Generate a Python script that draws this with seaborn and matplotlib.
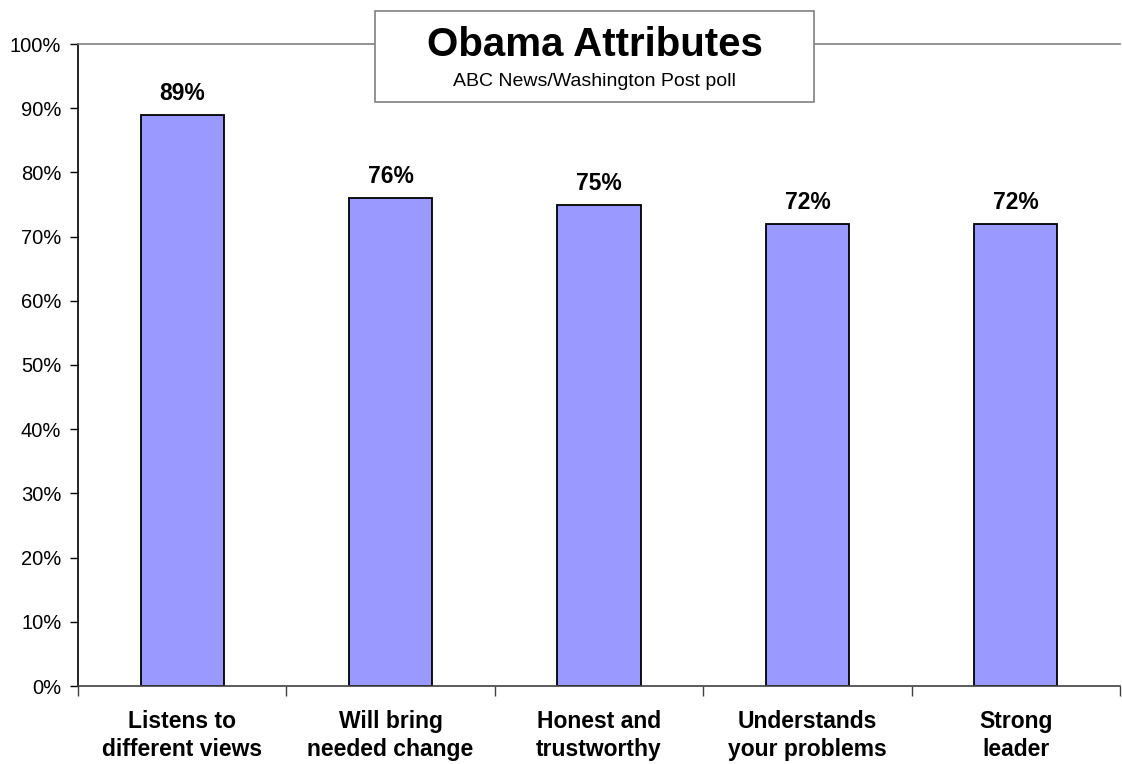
import matplotlib
matplotlib.use("Agg")
import matplotlib.pyplot as plt
import seaborn as sns
import pandas as pd
from matplotlib.patches import Rectangle
from matplotlib.ticker import FixedLocator, FuncFormatter

# dados
atributos = [
    "Listens to\ndifferent views",
    "Will bring\nneeded change",
    "Honest and\ntrustworthy",
    "Understands\nyour problems",
    "Strong\nleader",
]
percentuais = [89, 76, 75, 72, 72]
titulo = "Obama Attributes"
subtitulo = "ABC News/Washington Post poll"

df = pd.DataFrame({"atributo": atributos, "pct": percentuais})

sns.set_style("white")
plt.rcParams["font.family"] = ["Liberation Sans", "DejaVu Sans"]
plt.rcParams["text.color"] = "black"
plt.rcParams["xtick.color"] = "black"
plt.rcParams["ytick.color"] = "black"

fig = plt.figure(figsize=(11.22, 7.64), dpi=100)
ax = fig.add_axes([78 / 1122, 1 - 686 / 764, 1042 / 1122, 642 / 764])

sns.barplot(
    data=df,
    x="atributo",
    y="pct",
    color="#9999FF",
    saturation=1,
    width=0.4,
    edgecolor="black",
    linewidth=1.3,
    ax=ax,
)

ax.set_xlim(-0.5, len(atributos) - 0.5)
ax.set_ylim(0, 100)
ax.set_xlabel("")
ax.set_ylabel("")

# eixo y
ax.set_yticks(range(0, 101, 10))
ax.yaxis.set_major_formatter(FuncFormatter(lambda v, p: f"{int(v)}%"))
ax.tick_params(axis="y", direction="out", length=6, width=1, color="black",
               labelcolor="black", labelsize=14.5, pad=6, left=True)

# eixo x: rótulos no centro, marcas entre categorias
ax.tick_params(axis="x", which="major", length=0, pad=17, labelcolor="black")
ax.xaxis.set_minor_locator(FixedLocator([i - 0.5 for i in range(len(atributos) + 1)]))
ax.tick_params(axis="x", which="minor", direction="out", length=7, width=1,
               color="#404040", bottom=True)
for lbl in ax.get_xticklabels():
    lbl.set_fontsize(16.5)
    lbl.set_fontweight("bold")
    lbl.set_linespacing(1.32)

# bordas
ax.spines["right"].set_visible(False)
ax.spines["top"].set_color("#808080")
ax.spines["top"].set_linewidth(1.2)
ax.spines["left"].set_color("black")
ax.spines["left"].set_linewidth(1.2)
ax.spines["bottom"].set_color("#404040")
ax.spines["bottom"].set_linewidth(1.2)

# rótulos de valor
for i, v in enumerate(percentuais):
    ax.annotate(f"{v}%", (i, v), xytext=(0, 10.5), textcoords="offset points",
                ha="center", va="baseline", fontsize=16.5, fontweight="bold",
                color="black")

# caixa do título
caixa = Rectangle((375 / 1122, 1 - 102 / 764), 439 / 1122, 91 / 764,
                  transform=fig.transFigure, facecolor="white",
                  edgecolor="#808080", linewidth=1.2, zorder=5)
fig.patches.append(caixa)
fig.text(594.5 / 1122, 1 - 45 / 764, titulo, ha="center", va="center",
         fontsize=29, fontweight="bold", color="black", zorder=6)
fig.text(594.5 / 1122, 1 - 82 / 764, subtitulo, ha="center", va="center",
         fontsize=14, color="black", zorder=6)

fig.savefig("out.png", dpi=100)
